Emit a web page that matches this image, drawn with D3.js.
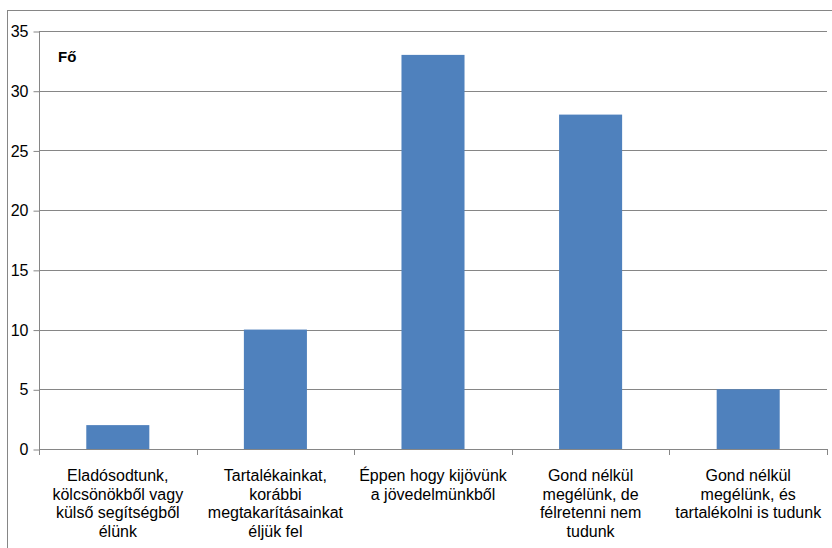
<!DOCTYPE html>
<html>
<head>
<meta charset="utf-8">
<script src="https://cdn.jsdelivr.net/npm/d3@7"></script>
<style>
  body { margin: 0; background: #fff; }
  svg text { font-family: "Liberation Sans", Arial, sans-serif; fill: #000; }
</style>
</head>
<body>
<div id="chart"></div>
<script>
// Data
const categories = [
    ["Eladósodtunk,", "kölcsönökből vagy", "külső segítségből", "élünk"],
    ["Tartalékainkat,", "korábbi", "megtakarításainkat", "éljük fel"],
    ["Éppen hogy kijövünk", "a jövedelmünkből"],
    ["Gond nélkül", "megélünk, de", "félretenni nem", "tudunk"],
    ["Gond nélkül", "megélünk, és", "tartalékolni is tudunk"]
];
const values = [2, 10, 33, 28, 5];
const yTicks = [0, 5, 10, 15, 20, 25, 30, 35];
const seriesName = "Fő";

const W = 832, H = 548;
const plot = { left: 39, right: 827, top: 31, bottom: 449 };

const svg = d3.select("#chart").append("svg")
    .attr("width", W).attr("height", H);

// outer chart border (right and bottom edges run off the canvas)
svg.append("rect")
    .attr("x", 7.5).attr("y", 10.5)
    .attr("width", 830).attr("height", 545)
    .attr("fill", "none").attr("stroke", "#868686");

const x = d3.scaleBand()
    .domain(d3.range(values.length))
    .range([plot.left, plot.right])
    .paddingInner(0.6).paddingOuter(0.3);

const y = d3.scaleLinear().domain([0, 35]).range([plot.bottom, plot.top]);

// gridlines
svg.append("g")
    .selectAll("line")
    .data(yTicks.filter(d => d > 0))
    .join("line")
    .attr("x1", plot.left).attr("x2", plot.right)
    .attr("y1", d => Math.round(y(d)) + 0.5).attr("y2", d => Math.round(y(d)) + 0.5)
    .attr("stroke", "#868686");

// bars
svg.append("g")
    .selectAll("rect")
    .data(values)
    .join("rect")
    .attr("x", (d, i) => x(i))
    .attr("width", x.bandwidth())
    .attr("y", d => y(d))
    .attr("height", d => y(0) - y(d))
    .attr("fill", "#4F81BD");

// y axis
const yAxis = svg.append("g")
    .attr("transform", `translate(${plot.left + 0.5},0.5)`)
    .call(d3.axisLeft(y).tickValues(yTicks).tickSize(6).tickPadding(5));
yAxis.select(".domain").attr("stroke", "#868686").attr("d", `M0,${y(35)}V${y(0)}`);
yAxis.selectAll(".tick line").attr("stroke", "#868686");
yAxis.selectAll(".tick text")
    .style("font-size", "16px")
    .style("font-family", "Liberation Sans, Arial, sans-serif");

// x axis line with boundary ticks
const step = (plot.right - plot.left) / values.length;
const xAxisG = svg.append("g");
xAxisG.append("line")
    .attr("x1", plot.left).attr("x2", plot.right)
    .attr("y1", plot.bottom + 0.5).attr("y2", plot.bottom + 0.5)
    .attr("stroke", "#868686");
xAxisG.selectAll(".bt")
    .data(d3.range(values.length + 1))
    .join("line")
    .attr("class", "bt")
    .attr("x1", i => Math.round(plot.left + i * step) + 0.5)
    .attr("x2", i => Math.round(plot.left + i * step) + 0.5)
    .attr("y1", plot.bottom).attr("y2", plot.bottom + 6)
    .attr("stroke", "#868686");

// category labels
const lbl = svg.append("g").selectAll("text")
    .data(categories)
    .join("text")
    .attr("text-anchor", "middle")
    .style("font-size", "16px")
    .attr("x", (d, i) => x(i) + x.bandwidth() / 2)
    .attr("y", 481);
lbl.selectAll("tspan")
    .data(d => d)
    .join("tspan")
    .attr("x", function () { return d3.select(this.parentNode).attr("x"); })
    .attr("dy", (d, i) => i === 0 ? 0 : 18.7)
    .text(d => d);

// series title
svg.append("text")
    .attr("x", 58).attr("y", 62)
    .style("font-size", "15px")
    .style("font-weight", "bold")
    .text(seriesName);
</script>
</body>
</html>
